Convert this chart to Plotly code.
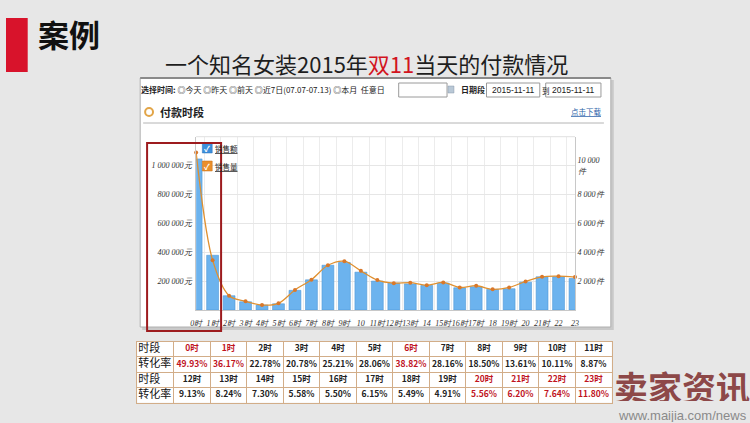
import plotly.graph_objects as go

# ---------------- data ----------------
hour_idx = list(range(24))
axis_labels = ["0时", "1时", "2时", "3时", "4时", "5时", "6时", "7时", "8时", "9时", "10", "11时",
               "12时", "13时", "14", "15时", "16时", "17时", "18", "19时", "20", "21时", "22", "23"]
sales_amount = [1046000, 379000, 98600, 57000, 34000, 43000, 136000, 209000, 310000, 329000, 262000, 200000,
                186000, 181000, 170000, 186000, 154000, 161000, 143000, 147000, 193000, 230000, 230000, 218000]
sales_qty = [10900, 3450, 990, 600, 340, 460, 1390, 2100, 3100, 3380, 2710, 2070,
             1860, 1890, 1720, 1910, 1560, 1680, 1430, 1560, 1980, 2300, 2340, 2280]
left_ticks = [200000, 400000, 600000, 800000, 1000000]
left_ticktext = ["200 000元", "400 000元", "600 000元", "800 000元", "1 000 000元"]
right_ticks = [2000, 4000, 6000, 8000, 10000]
right_ticktext = ["2 000件", "4 000件", "6 000件", "8 000件", "10 000<br>件"]

table_hours = ["%d时" % h for h in range(24)]
conv_rate = ["49.93%", "36.17%", "22.78%", "20.78%", "25.21%", "28.06%", "38.82%", "28.16%",
             "18.50%", "13.61%", "10.11%", "8.87%", "9.13%", "8.24%", "7.30%", "5.58%",
             "5.50%", "6.15%", "5.49%", "4.91%", "5.56%", "6.20%", "7.64%", "11.80%"]
row_labels = ["时段", "转化率", "时段", "转化率"]
highlight_hours = [0, 1, 6, 20, 21, 22, 23]

W, H = 750, 423
def X(x): return x / W
def Y(y): return 1 - y / H

CJK = "Noto Sans CJK SC"
RED_T = "#c0141e"
TAN = "#d2ad88"

fig = go.Figure()

fig.add_trace(go.Bar(
    x=hour_idx, y=sales_amount, width=0.72,
    marker=dict(color="#6cb3ee", line=dict(color="#4f98d8", width=0.6)),
    hoverinfo="skip", showlegend=False))
fig.add_trace(go.Scatter(
    x=hour_idx, y=sales_qty, yaxis="y2", mode="lines+markers",
    line=dict(color="#e0902f", width=1.3, shape="spline", smoothing=0.9),
    marker=dict(color="#d9782a", size=4), hoverinfo="skip", showlegend=False, cliponaxis=False))

# ---------------- table (text trace on its own axes) ----------------
tx, ty, tt, tc, ts, tp = [], [], [], [], [], []
for r in range(4):
    tx.append(-0.47); ty.append(r); tt.append(row_labels[r]); tc.append("#111"); ts.append(11)
    tp.append("middle right")
    for j in range(12):
        h = j + (12 if r >= 2 else 0)
        val = table_hours[h] if r % 2 == 0 else conv_rate[h]
        tx.append(j + 1); ty.append(r); tt.append("<b>%s</b>" % val)
        tc.append(RED_T if h in highlight_hours else "#222"); ts.append(8.5); tp.append("middle center")
fig.add_trace(go.Scatter(
    x=tx, y=ty, text=tt, mode="text", xaxis="x3", yaxis="y3", textposition=tp,
    textfont=dict(family=CJK, color=tc, size=ts), hoverinfo="skip", showlegend=False))

# ---------------- shapes ----------------
shapes = []
shapes.append(dict(type="rect", xref="paper", yref="paper", x0=X(0), x1=X(22), y0=Y(72), y1=Y(18),
                   fillcolor="#d8132b", line=dict(width=0), layer="below"))
shapes.append(dict(type="rect", xref="paper", yref="paper", x0=X(138), x1=X(616), y0=Y(330), y1=Y(80),
                   fillcolor="rgba(0,0,0,0.13)", line=dict(width=0), layer="below"))
shapes.append(dict(type="rect", xref="paper", yref="paper", x0=X(136), x1=X(613), y0=Y(327), y1=Y(78),
                   fillcolor="white", line=dict(color="#b0b0b0", width=1), layer="below"))
shapes.append(dict(type="line", xref="paper", yref="paper", x0=X(136), x1=X(613), y0=Y(78), y1=Y(78),
                   line=dict(color="#8a8a8a", width=2), layer="below"))
for x0, x1 in [(398, 447), (487, 541), (547, 603)]:
    shapes.append(dict(type="rect", xref="paper", yref="paper", x0=X(x0), x1=X(x1), y0=Y(97), y1=Y(83),
                       fillcolor="white", line=dict(color="#9a9a9a", width=1), layer="below"))
shapes.append(dict(type="rect", xref="paper", yref="paper", x0=X(448), x1=X(454), y0=Y(93), y1=Y(86),
                   fillcolor="#b9c8d6", line=dict(color="#8899aa", width=0.5), layer="below"))
shapes.append(dict(type="line", xref="paper", yref="paper", x0=X(139), x1=X(606), y0=Y(123), y1=Y(123),
                   line=dict(color="#b4b4b4", width=1), layer="below"))
shapes.append(dict(type="circle", xref="paper", yref="paper", x0=X(141), x1=X(149), y0=Y(116), y1=Y(108),
                   fillcolor="white", line=dict(color="#e2a548", width=2), layer="below"))
shapes.append(dict(type="rect", xref="paper", yref="paper", x0=X(199), x1=X(209), y0=Y(153), y1=Y(143),
                   fillcolor="#3d8fdc", line=dict(color="#2b70b8", width=0.5), layer="above"))
shapes.append(dict(type="rect", xref="paper", yref="paper", x0=X(199), x1=X(209), y0=Y(171), y1=Y(161),
                   fillcolor="#ea8f2b", line=dict(color="#c46f16", width=0.5), layer="above"))
shapes.append(dict(type="rect", xref="paper", yref="paper", x0=X(143), x1=X(218), y0=Y(331), y1=Y(143),
                   fillcolor="rgba(0,0,0,0)", line=dict(color="#9d1b1e", width=2), layer="above"))
shapes.append(dict(type="line", xref="x domain", yref="y domain", x0=0, x1=1, y0=1, y1=1,
                   line=dict(color="#e0e0e0", width=1)))
shapes.append(dict(type="rect", xref="x3 domain", yref="y3 domain", x0=0, x1=1, y0=0, y1=1,
                   fillcolor="white", line=dict(width=0), layer="below"))

# ---------------- annotations ----------------
ann = []
def txt(x, y, s, size, color="#222", family=CJK, xanchor="left", **kw):
    ann.append(dict(x=X(x), y=Y(y), xref="paper", yref="paper", text=s, showarrow=False,
                    xanchor=xanchor, yanchor="middle", font=dict(size=size, color=color, family=family), **kw))

txt(30, 33, "<b>案例</b>", 31, "#111")
txt(365, 63, "一个知名女装2015年<span style='color:#d2141e'>双11</span>当天的付款情况", 22, "#1e1e1e",
    xanchor="center")
txt(135, 90, "<b>选择时间:</b> ◎今天 ◎昨天 ◎前天 ◎近7日(07.07-07.13) ◎本月  任意日", 8, "#222")
txt(459, 90, "<b>日期段</b>", 8, "#222")
txt(514, 90, "2015-11-11", 8.5, "#222", family="Liberation Sans", xanchor="center")
txt(541, 91, "到", 7.5, "#222")
txt(575, 90, "2015-11-11", 8.5, "#222", family="Liberation Sans", xanchor="center")
txt(154, 112, "<b>付款时段</b>", 11, "#222")
txt(606, 112, "<u>点击下载</u>", 7.5, "#2a5fa8", xanchor="right")
txt(204, 148, "<b>✓</b>", 8, "white", xanchor="center")
txt(204, 166, "<b>✓</b>", 8, "white", xanchor="center")
txt(210, 148, "<u>销售额</u>", 7.5, "#222")
txt(210, 166, "<u>销售量</u>", 7.5, "#222")
txt(614, 386, "<b>卖家资讯</b>", 34, "#8d4848", height=30)
txt(618, 415, "www.maijia.com/news", 13, "#8a8a8a", family="Liberation Sans", height=13)

serif = dict(family="Liberation Serif", size=8, color="#333", style="italic")
noaxis = dict(showticklabels=False, ticks="", zeroline=False, fixedrange=True)

fig.update_layout(
    width=W, height=H, margin=dict(l=0, r=0, t=0, b=0),
    paper_bgcolor="#e7e7e7", plot_bgcolor="rgba(0,0,0,0)",
    shapes=shapes, annotations=ann, bargap=0.28,
    xaxis=dict(domain=[X(192.7), X(576.7)], range=[0, 23], tickmode="array",
               tickvals=hour_idx, ticktext=axis_labels, tickfont=serif, ticks="", ticklabelstandoff=5,
               tickangle=0, showgrid=False, zeroline=False, showline=True, linecolor="#c8c8c8",
               minor=dict(tick0=0.5, dtick=1, showgrid=True, gridcolor="#ececec", gridwidth=1),
               fixedrange=True),
    yaxis=dict(domain=[Y(310), Y(136.7)], range=[0, 1200000], tickmode="array", tickvals=left_ticks,
               ticktext=left_ticktext, tickfont=serif, showgrid=True, gridcolor="#e6e6e6",
               zeroline=False, showline=True, linecolor="#c8c8c8", ticks="", ticklabelstandoff=2),
    yaxis2=dict(overlaying="y", side="right", anchor="x", range=[0, 12000], tickmode="array",
                tickvals=right_ticks, ticktext=right_ticktext, tickfont=serif, showgrid=False,
                zeroline=False, showline=True, linecolor="#c8c8c8", ticks="", ticklabelstandoff=0),
    xaxis3=dict(domain=[X(133), X(614)], range=[-0.5, 12.5], anchor="y3", tickmode="array",
                tickvals=[j + 0.5 for j in range(12)], showgrid=True, gridcolor=TAN, gridwidth=1,
                showline=True, mirror=True, linecolor=TAN, linewidth=1, **noaxis),
    yaxis3=dict(domain=[Y(402.7), Y(341.7)], range=[3.5, -0.5], anchor="x3", tickmode="array",
                tickvals=[0.5, 1.5, 2.5], showgrid=True, gridcolor=TAN, gridwidth=1,
                showline=True, mirror=True, linecolor=TAN, linewidth=1, **noaxis),
)

fig.write_html("out.html", config={"displayModeBar": False},
               post_script="document.body.style.margin='0';")
